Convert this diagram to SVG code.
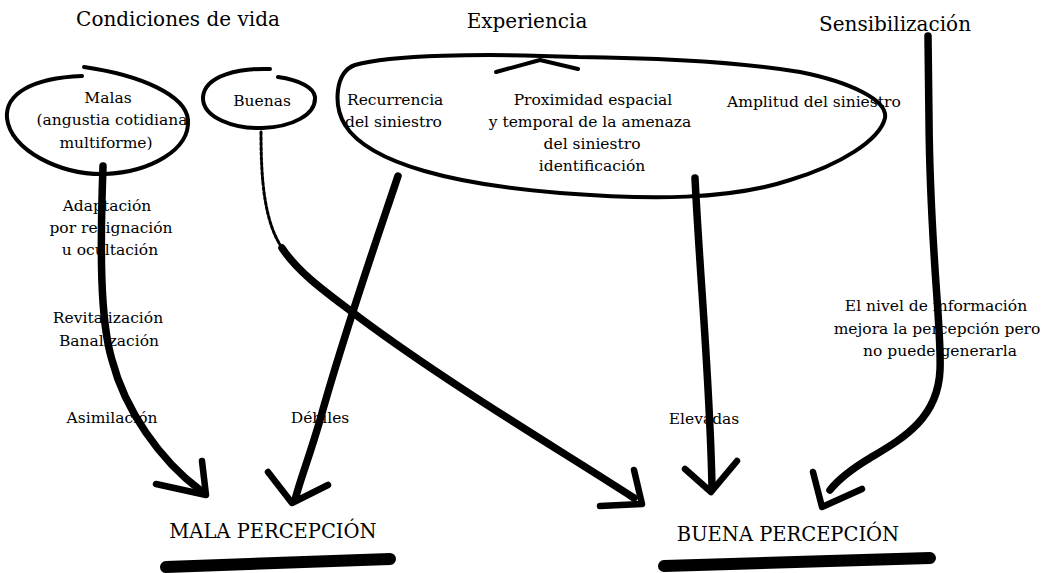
<svg xmlns="http://www.w3.org/2000/svg" width="1053" height="573" viewBox="0 0 1053 573">
<style>
.t{font-family:"DejaVu Serif","Liberation Serif",serif;fill:#000}
.title{font-size:20px}
.lbl{font-size:15.5px}
.big{font-size:19.5px}
.ring{fill:none;stroke:#000;stroke-width:4;stroke-linecap:round;stroke-linejoin:round}
.conn{fill:none;stroke:#000;stroke-linecap:round;stroke-linejoin:round}
.shaft{stroke-width:7.5}
.head{stroke-width:6.5}
.bar{fill:none;stroke:#000;stroke-width:12;stroke-linecap:round}
</style>
<rect width="1053" height="573" fill="#fff"/>

<g id="title-condiciones">
<text class="t title" x="178" y="26" text-anchor="middle">Condiciones de vida</text>
</g>
<g id="title-experiencia">
<text class="t title" x="527" y="28" text-anchor="middle">Experiencia</text>
</g>
<g id="title-sensibilizacion">
<text class="t title" x="895" y="31" text-anchor="middle">Sensibilización</text>
</g>

<g id="node-malas">
<path class="ring" d="M 82,76 C 30,78 5,95 7,118 C 10,150 60,175 105,174 C 150,172 190,150 188,120 C 186,95 140,75 84,67"/>
<text class="t lbl" text-anchor="middle"><tspan x="108" y="103">Malas</tspan><tspan x="112" y="125">(angustia cotidiana</tspan><tspan x="106" y="148">multiforme)</tspan></text>
</g>

<g id="node-buenas">
<path class="ring" d="M 270,69 C 240,68 205,75 203,97 C 202,118 235,129 262,128 C 292,127 316,115 315,97 C 314,88 300,80 278,77"/>
<text class="t lbl" x="262" y="106" text-anchor="middle">Buenas</text>
</g>

<g id="node-experiencia">
<path class="ring" d="M 578,57 C 480,53 390,55 355,65 C 335,72 333,105 345,125 C 370,165 460,185 560,193 C 650,200 730,200 790,180 C 840,165 880,140 885,118 C 888,100 850,82 800,72 C 740,62 660,58 578,57"/>
<path class="ring" d="M 496,72 L 540,60 L 578,69"/>
<text class="t lbl"><tspan x="347" y="105">Recurrencia</tspan><tspan x="345" y="127">del siniestro</tspan></text>
<text class="t lbl" text-anchor="middle"><tspan x="593" y="105">Proximidad espacial</tspan><tspan x="590" y="127">y temporal de la amenaza</tspan><tspan x="592" y="149">del siniestro</tspan><tspan x="592" y="171">identificación</tspan></text>
<text class="t lbl" x="727" y="107">Amplitud del siniestro</text>
</g>

<g id="node-mala-percepcion">
<text class="t big" x="273" y="538" text-anchor="middle">MALA PERCEPCIÓN</text>
<path class="bar" d="M 166,567 L 390,559"/>
</g>

<g id="node-buena-percepcion">
<text class="t big" x="788" y="541" text-anchor="middle">BUENA PERCEPCIÓN</text>
<path class="bar" d="M 664,566 L 930,558"/>
</g>

<g id="edge-labels">
<text class="t lbl" text-anchor="middle"><tspan x="107" y="211">Adaptación</tspan><tspan x="111" y="233">por resignación</tspan><tspan x="110" y="255">u ocultación</tspan></text>
<text class="t lbl" text-anchor="middle"><tspan x="108" y="323">Revitalización</tspan><tspan x="109" y="346">Banalización</tspan></text>
<text class="t lbl" x="112" y="423" text-anchor="middle">Asimilación</text>
<text class="t lbl" x="320" y="423" text-anchor="middle">Débiles</text>
<text class="t lbl" x="704" y="424" text-anchor="middle">Elevadas</text>
<text class="t lbl" text-anchor="middle"><tspan x="936" y="311">El nivel de información</tspan><tspan x="937" y="334">mejora la percepción pero</tspan><tspan x="940" y="356">no puede generarla</tspan></text>
</g>

<g id="connectors">
<!-- Malas -> Mala percepción -->
<path class="conn shaft" d="M 103,166 C 100,250 100,320 112,360 C 125,410 160,460 200,490"/>
<path class="conn head" d="M 156,484 L 206,495 L 202,461"/>
<!-- Buenas -> Buena percepción -->
<path class="conn" stroke="#555" stroke-width="3" stroke-dasharray="3 2" d="M 261,132 C 261,180 264,225 285,252"/>
<path class="conn shaft" d="M 282,248 C 300,275 330,295 360,318 C 450,385 560,450 634,498"/>
<path class="conn head" d="M 634,470 L 642,504 L 600,506"/>
<!-- Recurrencia -> Mala percepción -->
<path class="conn shaft" d="M 398,176 C 380,230 345,330 320,420 C 310,455 300,480 295,500"/>
<path class="conn head" d="M 268,472 L 292,503 L 328,485"/>
<!-- Experiencia -> Buena percepción -->
<path class="conn shaft" d="M 695,178 C 700,280 710,380 712,488"/>
<path class="conn head" d="M 685,469 L 711,492 L 737,461"/>
<!-- Sensibilización -> Buena percepción -->
<path class="conn shaft" d="M 928,36 L 929,120 C 930,250 942,330 940,370 C 938,420 900,440 870,458 C 850,470 838,480 830,490"/>
<path class="conn head" d="M 813,472 L 822,507 L 862,489"/>
</g>
</svg>
